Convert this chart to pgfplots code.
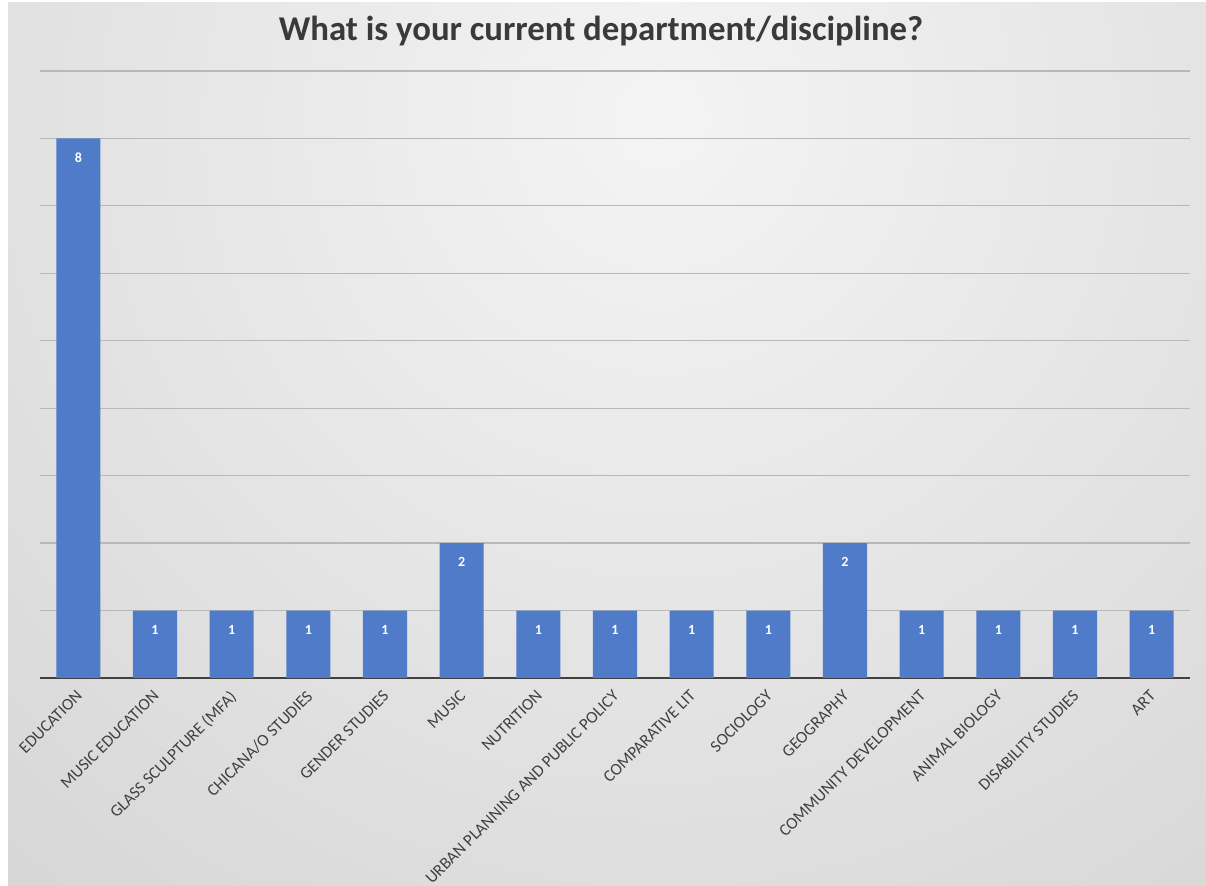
\documentclass[border=0pt]{standalone}
\usepackage{pgfplots}
\pgfplotsset{compat=1.18}
\usepackage{fontspec}
\setmainfont{Carlito}
\definecolor{barblue}{HTML}{4F7BC8}
\definecolor{titlegray}{HTML}{3A3A3A}
\definecolor{labgray}{HTML}{404040}
\definecolor{gridgray}{HTML}{B8B8B8}
\definecolor{axisdark}{HTML}{404040}
\definecolor{bgin}{HTML}{F4F4F4}
\definecolor{bgout}{HTML}{BEBEBE}
\begin{document}
\begin{tikzpicture}
\fill[white] (0pt,0pt) rectangle (603pt,443pt);
\begin{scope}
\clip (4pt,0pt) rectangle (603pt,441.5pt);
\fill[bgout] (4pt,0pt) rectangle (603pt,441.5pt);
\shade[inner color=bgin, outer color=bgout] (330pt,383pt) circle (920pt);
\end{scope}
\node[font=\bfseries\fontsize{17.4}{20}\selectfont, text=titlegray] at (300.5pt,427.5pt) {What is your current department/discipline?};
\begin{axis}[
  at={(20pt,104pt)}, anchor=south west,
  scale only axis, width=575pt, height=303.5pt,
  xmin=-0.5, xmax=14.5, ymin=0, ymax=9,
  separate axis lines,
  axis x line*=bottom, axis y line*=left,
  x axis line style={draw=axisdark, line width=1.1pt, -},
  y axis line style={draw=none},
  ytick={0,...,9}, yticklabels={},
  ymajorgrids, major grid style={draw=gridgray, line width=0.6pt},
  major tick length=0pt,
  xtick={0,...,14},
  xticklabels={EDUCATION, MUSIC EDUCATION, GLASS SCULPTURE (MFA), CHICANA/O STUDIES, GENDER STUDIES, MUSIC, NUTRITION, URBAN PLANNING AND PUBLIC POLICY, COMPARATIVE LIT, SOCIOLOGY, GEOGRAPHY, COMMUNITY DEVELOPMENT, ANIMAL BIOLOGY, DISABILITY STUDIES, ART},
  xticklabel style={xshift=-1.5pt, yshift=-4pt, rotate=45, anchor=north east, font=\fontsize{8.4}{10}\selectfont, text=labgray, inner sep=1pt},
  ybar, bar width=0.575, bar shift=0pt,
  nodes near coords,
  /pgf/number format/assume math mode=true,
  nodes near coords style={font=\bfseries\fontsize{7}{8}\selectfont, text=white, anchor=center, yshift=-9.5pt},
  clip=false,
]
\addplot[fill=barblue, draw=none] coordinates {
(0,8) (1,1) (2,1) (3,1) (4,1) (5,2) (6,1) (7,1) (8,1) (9,1) (10,2) (11,1) (12,1) (13,1) (14,1)
};
\end{axis}
\pgfresetboundingbox
\path (0pt,0pt) rectangle (603pt,443pt);
\end{tikzpicture}
\end{document}
